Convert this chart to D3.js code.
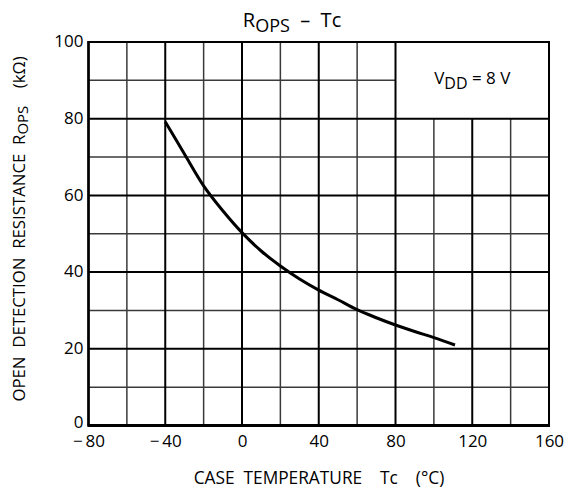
<!DOCTYPE html>
<html><head><meta charset="utf-8">
<script src="https://cdn.jsdelivr.net/npm/d3@7"></script>
<style>body{margin:0;background:#fff}svg{display:block}text{font-family:"Open Sans",sans-serif;fill:#000}</style>
</head><body>
<svg id="c" width="566" height="490"></svg>
<script>
const temps = [-40,-30,-20,-10,0,10,20,30,40,50,60,70,80,90,100,111];
const rops  = [79.2,70.8,62.5,56,50.3,45.5,41.6,38.2,35.3,32.8,30.2,28.1,26.2,24.5,22.9,21.0];
const xTicks = [-80,-40,0,40,80,120,160];
const yTicks = [0,20,40,60,80,100];
const xMinor = [-60,-20,20,60,100,140];
const yMinor = [10,30,50,70,90];

const svg = d3.select("#c");
const x = d3.scaleLinear().domain([-80,160]).range([88.5,549]);
const y = d3.scaleLinear().domain([0,100]).range([425.5,42]);
const inBoxX = v => v > 80 && v < 160;
const inBoxY = v => v > 80 && v < 100;

const g = svg.append("g");
// minor grid
g.selectAll(".vm").data(xMinor).join("line")
  .attr("x1",d=>x(d)).attr("x2",d=>x(d)).attr("y1",y(0)).attr("y2",d=>inBoxX(d)?y(80):y(100))
  .attr("stroke","#3a3a3a").attr("stroke-width",1.5);
g.selectAll(".hm").data(yMinor).join("line")
  .attr("y1",d=>y(d)).attr("y2",d=>y(d)).attr("x1",x(-80)).attr("x2",d=>inBoxY(d)?x(80):x(160))
  .attr("stroke","#3a3a3a").attr("stroke-width",1.5);
// major grid
g.selectAll(".vM").data(xTicks.slice(1,-1)).join("line")
  .attr("x1",d=>x(d)).attr("x2",d=>x(d)).attr("y1",y(0)).attr("y2",d=>inBoxX(d)?y(80):y(100))
  .attr("stroke","#000").attr("stroke-width",2);
g.selectAll(".hM").data(yTicks.slice(1,-1)).join("line")
  .attr("y1",d=>y(d)).attr("y2",d=>y(d)).attr("x1",x(-80)).attr("x2",x(160))
  .attr("stroke","#000").attr("stroke-width",2);
// frame
g.append("rect").attr("x",x(-80)).attr("y",y(100)).attr("width",x(160)-x(-80)).attr("height",y(0)-y(100))
  .attr("fill","none").attr("stroke","#000").attr("stroke-width",2);
g.append("line").attr("x1",x(-80)-1).attr("x2",x(160)+1).attr("y1",y(0)).attr("y2",y(0)).attr("stroke","#000").attr("stroke-width",3);
g.append("line").attr("x1",x(-80)).attr("x2",x(-80)).attr("y1",y(0)).attr("y2",y(100)-1).attr("stroke","#000").attr("stroke-width",2.5);

// axes (labels only)
const xAxis = d3.axisBottom(x).tickValues(xTicks).tickSize(0).tickPadding(0)
  .tickFormat(d => d < 0 ? "\u2212\u2009" + Math.abs(d) : String(d));
const xa = svg.append("g").attr("transform",`translate(0,${y(0)})`).call(xAxis);
xa.select(".domain").remove();
xa.selectAll("text").attr("font-size",17).attr("y",21).attr("dy",0).style("font-family","'Open Sans',sans-serif").attr("fill","#000");
const yAxis = d3.axisLeft(y).tickValues(yTicks).tickSize(0).tickPadding(5);
const ya = svg.append("g").attr("transform",`translate(${x(-80)},0)`).call(yAxis);
ya.select(".domain").remove();
ya.selectAll("text").attr("font-size",17).attr("dy",d=>d===0?"0.1em":"0.28em").style("font-family","'Open Sans',sans-serif").attr("fill","#000");

// curve
const line = d3.line().x((d,i)=>x(temps[i])).y(d=>y(d)).curve(d3.curveCatmullRom);
svg.append("path").datum(rops).attr("d",line).attr("fill","none").attr("stroke","#000").attr("stroke-width",3).attr("stroke-linecap","butt");

// title
const t = svg.append("text").attr("x",292).attr("y",27).attr("text-anchor","middle").attr("font-size",20).attr("xml:space","preserve");
t.append("tspan").text("R");
t.append("tspan").attr("font-size",18).attr("dy",5).text("OPS");
t.append("tspan").attr("dy",-5).text("  \u2013  Tc");

// legend text
const lt = svg.append("text").attr("x",(x(80)+x(160))/2).attr("y",84).attr("text-anchor","middle").attr("font-size",17);
lt.append("tspan").text("V");
lt.append("tspan").attr("font-size",16).attr("dy",5).text("DD");
lt.append("tspan").attr("dy",-5).attr("xml:space","preserve").text(" = 8 V");

// x title
svg.append("text").attr("x",319).attr("y",484).attr("text-anchor","middle").attr("font-size",17.3)
  .attr("xml:space","preserve").text("CASE  TEMPERATURE    Tc    (\u00B0C)");

// y title
const yt = svg.append("text").attr("transform","translate(25,229) rotate(-90)").attr("text-anchor","middle").attr("font-size",16.8).attr("xml:space","preserve");
yt.append("tspan").text("OPEN  DETECTION  RESISTANCE  R");
yt.append("tspan").attr("font-size",15).attr("dy",3).text("OPS");
yt.append("tspan").attr("dy",-3).text("    (k\u03A9)");
</script>
</body></html>
